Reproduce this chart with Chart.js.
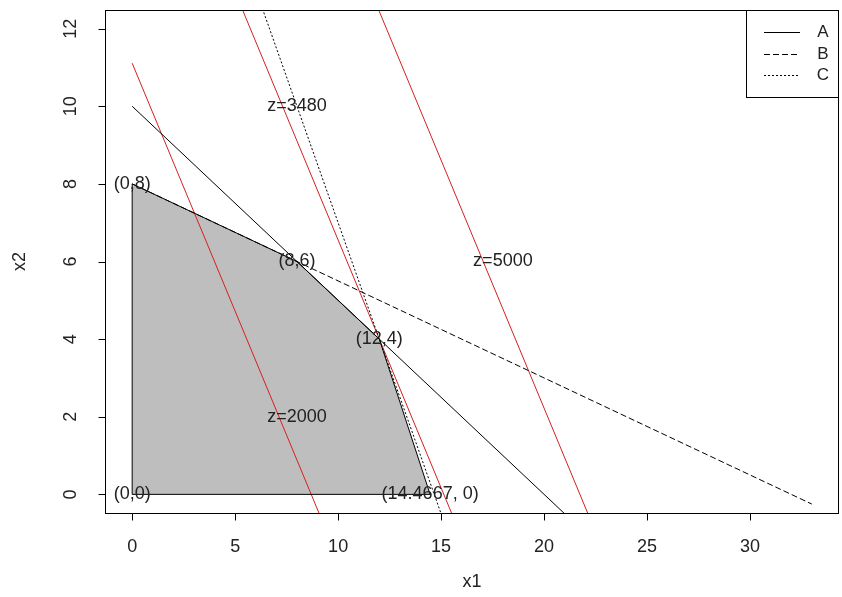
<!DOCTYPE html>
<html>
<head>
<meta charset="utf-8">
<script src="https://cdn.jsdelivr.net/npm/chart.js@4.4.1/dist/chart.umd.min.js"></script>
<style>
  html, body { margin: 0; padding: 0; background: #fff; }
  #wrap { width: 842px; height: 597px; }
</style>
</head>
<body>
<div id="wrap"><canvas id="chart" width="842" height="597"></canvas></div>
<script>
// feasible region (vertices as printed on the plot)
const regionX = [0, 0, 8, 12, 14.4667];
const regionY = [0, 8, 6, 4, 0];

// constraint lines, two end points each (data units)
const lineA = [[0, 10], [21, -0.5]];
const lineB = [[0, 8], [33, -0.25]];
const lineC = [[6, 13], [15, -0.5]];

// objective lines
const z2000 = [[0, 11.11], [10, -1.67]];
const z3480 = [[5, 12.94], [16, -1.11]];
const z5000 = [[11, 13.72], [23, -1.61]];

// text labels placed at data points
const pointLabels = ["(0,8)", "(8,6)", "(12,4)", "(14.4667, 0)", "(0,0)", "z=2000", "z=3480", "z=5000"];
const pointLabelX = [0, 8, 12, 14.4667, 0, 8, 8, 18];
const pointLabelY = [8, 6, 4, 0, 0, 2, 10, 6];

const xTicks = [0, 5, 10, 15, 20, 25, 30];
const yTicks = [0, 2, 4, 6, 8, 10, 12];
const legendLabels = ["A", "B", "C"];

const toPts = arr => arr.map(p => ({ x: p[0], y: p[1] }));
const FONT = '"Liberation Sans", Arial, sans-serif';
const RED = '#d42020';

const rAxes = {
  id: 'rAxes',
  afterDraw(chart) {
    const ctx = chart.ctx;
    const xs = chart.scales.x, ys = chart.scales.y;
    const a = chart.chartArea;
    ctx.save();
    ctx.strokeStyle = '#000';
    ctx.lineWidth = 1;
    ctx.fillStyle = '#222';

    // text labels inside plot
    ctx.font = '18px ' + FONT;
    ctx.textAlign = 'center';
    ctx.textBaseline = 'middle';
    pointLabels.forEach((t, i) => {
      ctx.fillText(t, xs.getPixelForValue(pointLabelX[i]), ys.getPixelForValue(pointLabelY[i]));
    });

    // box
    ctx.strokeRect(Math.round(a.left) + 0.5, Math.round(a.top) + 0.5,
      Math.round(a.right - a.left) - 1, Math.round(a.bottom - a.top));

    // x axis ticks
    const by = Math.round(a.bottom) + 0.5;
    ctx.beginPath();
    xTicks.forEach(v => {
      const px = Math.round(xs.getPixelForValue(v)) + 0.5;
      ctx.moveTo(px, by);
      ctx.lineTo(px, by + 7);
    });
    // y axis ticks
    const lx = Math.round(a.left) + 0.5;
    yTicks.forEach(v => {
      const py = Math.round(ys.getPixelForValue(v)) + 0.5;
      ctx.moveTo(lx, py);
      ctx.lineTo(lx - 7, py);
    });
    ctx.stroke();

    ctx.font = '18px ' + FONT;
    xTicks.forEach(v => {
      ctx.fillText(String(v), xs.getPixelForValue(v), 547);
    });
    yTicks.forEach(v => {
      ctx.save();
      ctx.translate(71, ys.getPixelForValue(v));
      ctx.rotate(-Math.PI / 2);
      ctx.fillText(String(v), 0, 0);
      ctx.restore();
    });

    // axis titles
    ctx.fillText('x1', (a.left + a.right) / 2, 582);
    ctx.save();
    ctx.translate(20, (a.top + a.bottom) / 2);
    ctx.rotate(-Math.PI / 2);
    ctx.fillText('x2', 0, 0);
    ctx.restore();

    // legend
    ctx.fillStyle = '#fff';
    ctx.fillRect(746, a.top, a.right - 746, 97 - a.top);
    ctx.strokeRect(746.5, Math.round(a.top) + 0.5, Math.round(a.right) - 747, 97 - Math.round(a.top));
    const dashes = [[], [6, 3], [2, 2]];
    const ly = [32, 54, 75];
    legendLabels.forEach((t, i) => {
      ctx.beginPath();
      ctx.setLineDash(dashes[i]);
      ctx.moveTo(764, ly[i] + 0.5);
      ctx.lineTo(800, ly[i] + 0.5);
      ctx.stroke();
      ctx.setLineDash([]);
      ctx.fillStyle = '#222';
      ctx.font = '17px ' + FONT;
      ctx.fillText(t, 823, ly[i]);
    });
    ctx.restore();
  }
};

const lineDs = (pts, color, dash) => ({
  type: 'line',
  data: toPts(pts),
  borderColor: color,
  borderWidth: 1,
  borderDash: dash,
  pointRadius: 0,
  fill: false,
  tension: 0
});

const last = regionX.length - 1;

new Chart(document.getElementById('chart'), {
  type: 'line',
  data: {
    datasets: [
      {
        data: regionX.map((x, i) => ({ x: x, y: regionY[i] })),
        borderColor: '#000',
        borderWidth: 1,
        backgroundColor: '#bebebe',
        pointRadius: 0,
        fill: 'origin',
        tension: 0
      },
      // closing edge of the region
      lineDs([[regionX[last], regionY[last]], [regionX[0], regionY[0]]], '#000', []),
      lineDs(lineA, '#000', []),
      lineDs(lineB, '#000', [6, 3]),
      lineDs(lineC, '#000', [2, 2]),
      lineDs(z2000, RED, []),
      lineDs(z3480, RED, []),
      lineDs(z5000, RED, [])
    ]
  },
  options: {
    responsive: false,
    animation: false,
    layout: { padding: { left: 105, right: 3, top: 10, bottom: 84 } },
    plugins: {
      legend: { display: false },
      tooltip: { enabled: false },
      filler: { drawTime: 'beforeDatasetsDraw' }
    },
    scales: {
      x: { type: 'linear', min: -1.32, max: 34.32, display: false },
      y: { type: 'linear', min: -0.48, max: 12.48, display: false }
    }
  },
  plugins: [rAxes]
});
</script>
</body>
</html>
